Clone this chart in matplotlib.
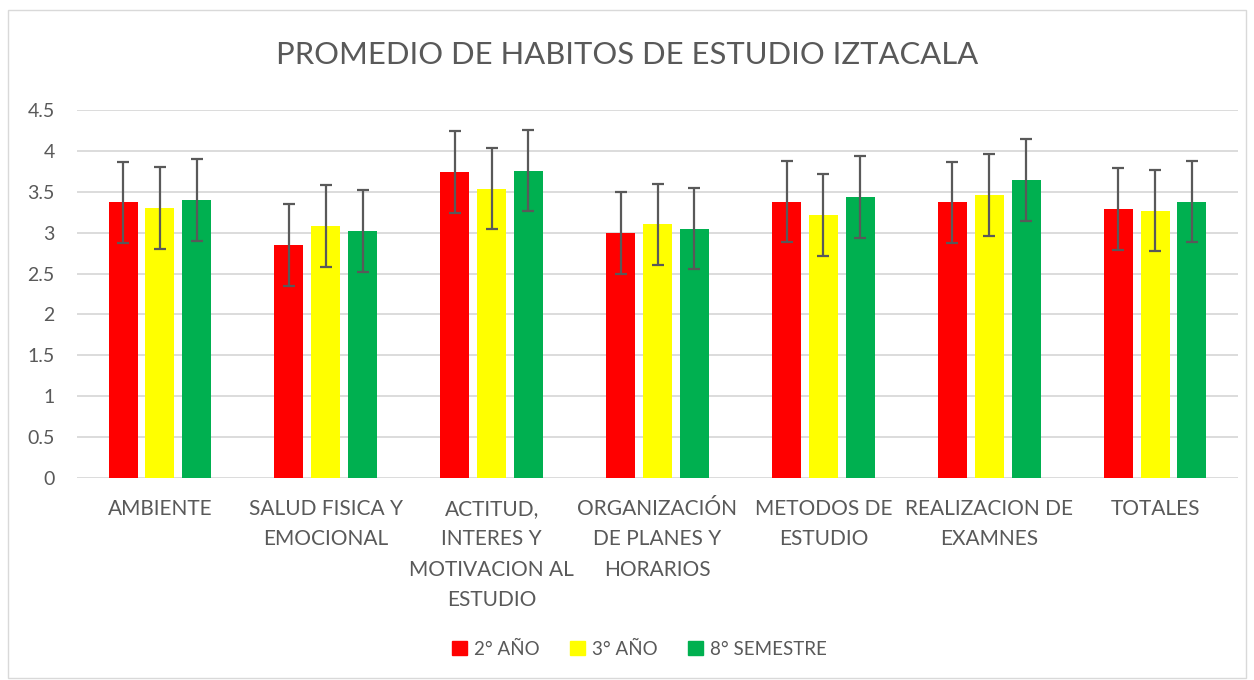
import matplotlib
matplotlib.use("Agg")
import matplotlib.pyplot as plt
import numpy as np
from matplotlib.patches import Rectangle, Patch

categories = ["AMBIENTE", "SALUD FISICA Y\nEMOCIONAL", "ACTITUD,\nINTERES Y\nMOTIVACION AL\nESTUDIO",
              "ORGANIZACIÓN\nDE PLANES Y\nHORARIOS", "METODOS DE\nESTUDIO", "REALIZACION DE\nEXAMNES", "TOTALES"]
series_names = ["2° AÑO", "3° AÑO", "8° SEMESTRE"]
anio2 = [3.37, 2.85, 3.74, 3.00, 3.38, 3.37, 3.29]
anio3 = [3.30, 3.08, 3.54, 3.10, 3.22, 3.46, 3.27]
sem8 = [3.40, 3.02, 3.76, 3.05, 3.44, 3.64, 3.38]
err = 0.5
colors = ["#FF0000", "#FFFF00", "#00B050"]
yticks = [0, 0.5, 1, 1.5, 2, 2.5, 3, 3.5, 4, 4.5]
ytick_labels = ["0", "0.5", "1", "1.5", "2", "2.5", "3", "3.5", "4", "4.5"]

plt.rcParams['font.family'] = ['Lato', 'DejaVu Sans']
fig = plt.figure(figsize=(12.54, 6.8), dpi=100)
ax = fig.add_axes([77/1254, 1-478/680, (1238-77)/1254, (478-110)/680])

x = np.arange(len(categories))
w = 0.175
off = 0.222
for i, (vals, c) in enumerate(zip([anio2, anio3, sem8], colors)):
    ax.bar(x + (i-1)*off, vals, width=w, color=c, zorder=2,
           yerr=err, error_kw=dict(ecolor="#595959", elinewidth=1.6, capsize=4.5, capthick=1.6, zorder=3))

ax.set_xlim(-0.5, len(categories)-0.5)
ax.set_ylim(0, 4.5)
ax.set_yticks(yticks)
ax.set_yticklabels(ytick_labels, fontsize=14, color="#595959")
ax.set_xticks(x)
ax.set_xticklabels(categories, fontsize=15, color="#595959", linespacing=1.65, va="top")
ax.tick_params(axis='both', length=0)
ax.tick_params(axis='x', pad=15)
ax.tick_params(axis='y', pad=16)
ax.grid(axis='y', color="#D9D9D9", linewidth=1.3, zorder=0)
for s in ax.spines.values():
    s.set_visible(False)
ax.set_axisbelow(True)

fig.text(0.5, 1-64/680, "PROMEDIO DE HABITOS DE ESTUDIO IZTACALA", ha="center", va="baseline",
         fontsize=22.3, color="#595959")

handles = [Patch(color=c) for c in colors]
fig.legend(handles, series_names, loc="center", bbox_to_anchor=(0.51, 1-649/680), ncol=3,
           frameon=False, fontsize=13.5, labelcolor="#595959", handlelength=0.8, handleheight=0.8,
           columnspacing=1.6, handletextpad=0.4)

fig.patches.append(Rectangle((8/1254, 2/680), 1238/1254, 668/680, transform=fig.transFigure,
                             fill=False, edgecolor="#D9D9D9", linewidth=1))
fig.savefig("out.png", dpi=100)
